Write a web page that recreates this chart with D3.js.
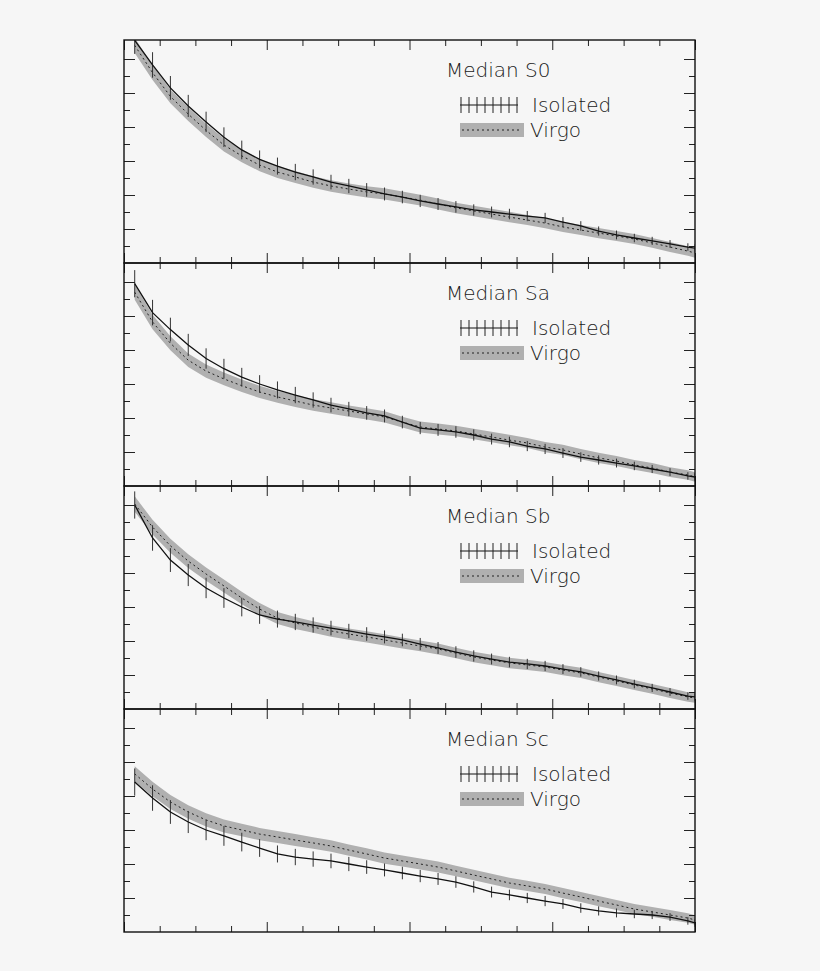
<!DOCTYPE html>
<html><head><meta charset="utf-8">
<script src="https://cdn.jsdelivr.net/npm/d3@7"></script>
<style>body{margin:0;background:#f6f6f6}svg{display:block}</style>
</head><body>
<svg id="chart" width="820" height="971"></svg>
<script>
// radius grid (shared by every panel)
const xs = [0.3,0.8,1.3,1.8,2.3,2.8,3.3,3.8,4.3,4.8,5.3,5.8,6.3,6.8,7.3,7.8,8.3,8.8,9.3,9.8,10.3,10.8,11.3,11.8,12.3,12.8,13.3,13.8,14.3,14.8,15.3,15.8,16];

const isoS0 = [13.1,11.65,10.3,9.24,8.3,7.4,6.65,6.1,5.7,5.35,5.06,4.76,4.53,4.3,4.06,3.88,3.65,3.47,3.3,3.12,3.0,2.88,2.76,2.65,2.41,2.18,1.88,1.65,1.47,1.3,1.12,0.94,0.88];
const virS0 = [12.8,11.2,9.8,8.76,7.8,6.94,6.3,5.76,5.35,5.06,4.76,4.53,4.35,4.18,4.06,3.88,3.7,3.47,3.24,3.06,2.88,2.7,2.53,2.35,2.12,1.94,1.76,1.59,1.41,1.18,0.94,0.7,0.59];
const isoSa = [11.9,10.2,9.2,8.3,7.5,6.9,6.4,6.0,5.65,5.35,5.06,4.76,4.53,4.3,4.12,3.76,3.41,3.3,3.18,3.0,2.76,2.59,2.35,2.18,1.94,1.7,1.53,1.35,1.18,1.0,0.82,0.59,0.53];
const virSa = [11.4,9.65,8.4,7.4,6.76,6.3,5.9,5.53,5.24,5.0,4.76,4.59,4.41,4.24,4.06,3.76,3.47,3.35,3.24,3.06,2.88,2.7,2.53,2.29,2.12,1.88,1.65,1.47,1.24,1.06,0.82,0.65,0.53];
const isoSb = [12.0,10.06,8.76,7.88,7.12,6.53,6.0,5.53,5.29,5.12,4.94,4.76,4.59,4.41,4.24,4.06,3.82,3.59,3.35,3.12,2.94,2.76,2.65,2.53,2.35,2.18,1.94,1.71,1.47,1.24,1.0,0.76,0.71];
const virSb = [12.06,10.7,9.6,8.7,7.94,7.24,6.53,5.88,5.35,5.06,4.82,4.59,4.41,4.24,4.06,3.88,3.71,3.53,3.29,3.06,2.88,2.71,2.59,2.47,2.29,2.12,1.88,1.65,1.41,1.18,0.94,0.71,0.65];
const isoSc = [8.82,7.88,7.06,6.47,6.0,5.65,5.29,4.94,4.59,4.41,4.29,4.18,4.0,3.82,3.65,3.47,3.29,3.12,2.94,2.65,2.35,2.18,2.0,1.82,1.65,1.41,1.24,1.12,1.06,1.0,0.88,0.65,0.53];
const virSc = [9.3,8.41,7.65,7.06,6.59,6.24,6.0,5.76,5.59,5.41,5.24,5.06,4.82,4.59,4.35,4.18,4.0,3.82,3.59,3.35,3.12,2.88,2.71,2.53,2.29,2.06,1.82,1.59,1.35,1.18,1.0,0.82,0.71];

// half-length of isolated error bars, half-width of Virgo band
const isoErr = [0.8,0.75,0.7,0.65,0.6,0.58,0.55,0.52,0.5,0.48,0.45,0.43,0.42,0.4,0.38,0.37,0.36,0.35,0.34,0.33,0.32,0.31,0.3,0.3,0.29,0.28,0.27,0.26,0.25,0.24,0.23,0.22,0.22];
const virBand = [0.45,0.43,0.41,0.4,0.39,0.38,0.37,0.36,0.35,0.35,0.34,0.34,0.33,0.33,0.33,0.32,0.32,0.32,0.31,0.31,0.31,0.31,0.3,0.3,0.3,0.3,0.3,0.29,0.29,0.29,0.29,0.28,0.28];

const panelNames = ["Median S0","Median Sa","Median Sb","Median Sc"];
const panelIso = [isoS0,isoSa,isoSb,isoSc];
const panelVir = [virS0,virSa,virSb,virSc];

const left = 124, right = 695, top0 = 40, ph = 223;
const svg = d3.select("#chart");
const x = d3.scaleLinear().domain([0,16]).range([left,right]);
const font = "'DejaVu Sans', sans-serif";

panelNames.forEach((name, i) => {
  const t = top0 + i*ph, b = t + ph;
  const y = d3.scaleLinear().domain([0, ph/17]).range([b, t]);
  const g = svg.append("g");
  const clipId = "clip" + i;
  g.append("clipPath").attr("id", clipId)
    .append("rect").attr("x", left).attr("y", t).attr("width", right-left).attr("height", ph);
  const plot = g.append("g").attr("clip-path", `url(#${clipId})`);

  const iso = panelIso[i], vir = panelVir[i];
  const pts = xs.map((xv, k) => ({x: xv, iso: iso[k], vir: vir[k], e: isoErr[k], w: virBand[k]}));

  plot.append("path").datum(pts)
    .attr("fill", "#b0b0b0")
    .attr("d", d3.area().x(d => x(d.x)).y0(d => y(d.vir - d.w)).y1(d => y(d.vir + d.w)));
  plot.append("path").datum(pts)
    .attr("fill", "none").attr("stroke", "#222").attr("stroke-width", 1)
    .attr("stroke-dasharray", "2,3")
    .attr("d", d3.line().x(d => x(d.x)).y(d => y(d.vir)));
  plot.selectAll("line.err").data(pts).join("line")
    .attr("x1", d => x(d.x)).attr("x2", d => x(d.x))
    .attr("y1", d => y(d.iso - d.e)).attr("y2", d => y(d.iso + d.e))
    .attr("stroke", "#333").attr("stroke-width", 1);
  plot.append("path").datum(pts)
    .attr("fill", "none").attr("stroke", "#111").attr("stroke-width", 1.3)
    .attr("d", d3.line().x(d => x(d.x)).y(d => y(d.iso)));

  // axes: ticks inward on all four sides, no labels
  const tickX = (sel, dir) => {
    const ax = (dir > 0 ? d3.axisBottom(x) : d3.axisTop(x)).ticks(16).tickFormat("")
      .tickSizeOuter(0).tickSizeInner(-6);
    sel.call(ax);
    sel.selectAll(".tick line").filter(d => d % 4 === 0).attr("y2", dir > 0 ? -10 : 10);
  };
  tickX(g.append("g").attr("transform", `translate(0,${b})`), 1);
  tickX(g.append("g").attr("transform", `translate(0,${t})`), -1);
  const yTicks = d3.range(1, 13);
  [left, right].forEach(px => {
    const ax = (px === left ? d3.axisLeft(y) : d3.axisRight(y)).tickValues(yTicks).tickFormat("")
      .tickSizeOuter(0).tickSizeInner(-6);
    const a = g.append("g").attr("transform", `translate(${px},0)`).call(ax);
    a.selectAll(".tick line").filter(d => d % 2 === 0).attr("x2", px === left ? 11 : -11);
  });
  g.selectAll(".domain").remove();
  g.append("rect").attr("x", left).attr("y", t).attr("width", right-left).attr("height", ph)
    .attr("fill", "none").attr("stroke", "#111").attr("stroke-width", 1.4);
  g.selectAll(".tick line").attr("stroke", "#222");

  // legend
  g.append("text").attr("x", 446).attr("y", t + 37).text(name)
    .attr("font-family", font).attr("font-weight", 200).attr("font-size", 20).attr("fill", "#1a1a1a");
  const ly = t + 65;
  g.append("line").attr("x1", 460).attr("x2", 518).attr("y1", ly).attr("y2", ly).attr("stroke", "#111");
  g.selectAll("line.lt").data(d3.range(8)).join("line")
    .attr("x1", k => 461 + k*8).attr("x2", k => 461 + k*8)
    .attr("y1", ly - 8).attr("y2", ly + 8).attr("stroke", "#222");
  g.append("text").attr("x", 532).attr("y", ly + 7).text("Isolated")
    .attr("font-family", font).attr("font-weight", 200).attr("font-size", 20).attr("fill", "#1a1a1a");
  const vy = ly + 25;
  g.append("rect").attr("x", 460).attr("y", vy - 7).attr("width", 64).attr("height", 14).attr("fill", "#b0b0b0");
  g.append("line").attr("x1", 462).attr("x2", 522).attr("y1", vy).attr("y2", vy)
    .attr("stroke", "#222").attr("stroke-dasharray", "2,3");
  g.append("text").attr("x", 530).attr("y", vy + 7).text("Virgo")
    .attr("font-family", font).attr("font-weight", 200).attr("font-size", 20).attr("fill", "#1a1a1a");
});
</script>
</body></html>
